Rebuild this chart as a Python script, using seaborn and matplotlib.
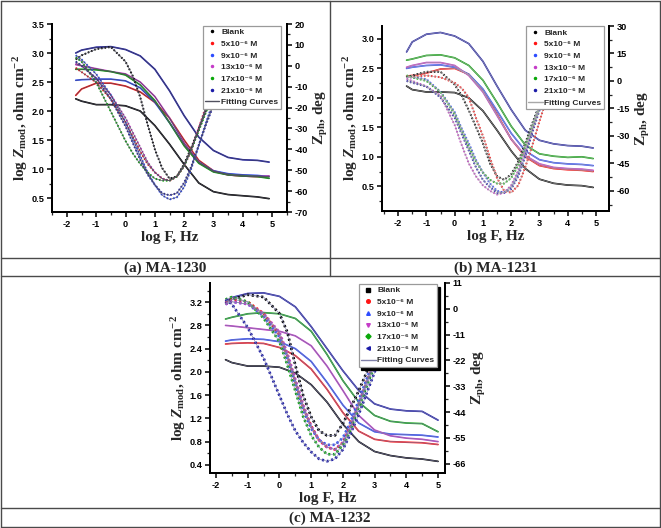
import numpy as np
import pandas as pd
import matplotlib
matplotlib.use('Agg')
import matplotlib.pyplot as plt
from matplotlib.lines import Line2D
from matplotlib.ticker import FixedLocator, AutoMinorLocator
import seaborn as sns

# ---------------- data ----------------
SERIES = ['Blank', '5x10⁻⁶ M', '9x10⁻⁶ M', '13x10⁻⁶ M', '17x10⁻⁶ M', '21x10⁻⁶ M']
COLORS = ['#000000', '#ff1414', '#2d4cff', '#c53cc8', '#0aa80a', '#1c1ca8']
FIT_LABEL = 'Fitting Curves'

MOD_X_AB = [-1.7, -1.5, -1.0, -0.5, 0.0, 0.5, 1.0, 1.5, 2.0, 2.5, 3.0, 3.5, 4.0, 4.5, 4.9]
MOD_X_C = [-1.7, -1.5, -1.0, -0.5, 0.0, 0.5, 1.0, 1.5, 2.0, 2.5, 3.0, 3.5, 4.0, 4.5, 5.0]
PH_X = [-1.7, -1.5, -1.0, -0.5, 0.0, 0.25, 0.5, 0.75, 1.0, 1.25, 1.5, 1.75,
        2.0, 2.25, 2.5, 2.75, 3.0, 3.25, 3.5, 4.0, 4.5, 4.9]

# (a) MA-1230
a_mod_blank = [2.21, 2.17, 2.11, 2.11, 2.09, 2.00, 1.75, 1.43, 1.08, 0.76, 0.61, 0.56, 0.54, 0.52, 0.49]
a_mod_5 = [2.27, 2.38, 2.48, 2.48, 2.43, 2.33, 2.15, 1.88, 1.50, 1.15, 0.97, 0.90, 0.88, 0.87, 0.87]
a_mod_9 = [2.53, 2.54, 2.55, 2.55, 2.52, 2.40, 2.15, 1.80, 1.42, 1.12, 0.97, 0.92, 0.90, 0.89, 0.87]
a_mod_13 = [2.80, 2.78, 2.73, 2.68, 2.64, 2.50, 2.25, 1.88, 1.45, 1.12, 0.96, 0.90, 0.88, 0.87, 0.88]
a_mod_17 = [2.72, 2.72, 2.71, 2.68, 2.62, 2.45, 2.18, 1.80, 1.40, 1.10, 0.95, 0.90, 0.88, 0.87, 0.84]
a_mod_21 = [3.00, 3.05, 3.10, 3.11, 3.06, 2.95, 2.72, 2.35, 1.92, 1.55, 1.32, 1.20, 1.16, 1.15, 1.12]

a_ph_blank = [3, 5, 8, 9, 2, -5, -15, -28, -40, -49, -54, -53, -47, -39, -30, -21, -12, -4, 2, 8, 9, 9]
a_ph_5 = [-1, -3, -8, -16, -27, -34, -41, -47, -51, -54, -55, -53, -48, -40, -30, -19, -9, 0, 6, 10, 10, 10]
a_ph_9 = [5, 3, -4, -14, -27, -35, -43, -51, -57, -62, -64, -63, -58, -49, -38, -27, -17, -8, 0, 7, 9, 9]
a_ph_13 = [1, 0, -6, -14, -25, -32, -39, -46, -51, -54, -55, -53, -48, -40, -30, -20, -10, -1, 5, 9, 10, 10]
a_ph_17 = [4, 2, -8, -22, -36, -42, -47, -51, -54, -55, -55, -53, -48, -40, -31, -22, -13, -4, 3, 8, 10, 10]
a_ph_21 = [2, 0, -6, -16, -29, -37, -45, -52, -57, -61, -62, -61, -56, -48, -38, -28, -19, -10, -2, 6, 9, 9]

# (b) MA-1231
b_mod_blank = [2.20, 2.14, 2.10, 2.10, 2.09, 2.00, 1.78, 1.45, 1.10, 0.80, 0.62, 0.55, 0.52, 0.51, 0.48]
b_mod_5 = [2.37, 2.38, 2.42, 2.49, 2.50, 2.40, 2.12, 1.72, 1.30, 1.00, 0.85, 0.80, 0.78, 0.77, 0.75]
b_mod_9 = [2.50, 2.52, 2.55, 2.56, 2.52, 2.40, 2.15, 1.78, 1.40, 1.10, 0.95, 0.90, 0.88, 0.87, 0.85]
b_mod_13 = [2.52, 2.55, 2.60, 2.60, 2.55, 2.38, 2.10, 1.70, 1.30, 1.02, 0.88, 0.82, 0.80, 0.79, 0.77]
b_mod_17 = [2.64, 2.66, 2.72, 2.73, 2.68, 2.55, 2.30, 1.92, 1.52, 1.20, 1.05, 1.01, 0.99, 1.00, 0.97]
b_mod_21 = [2.78, 2.95, 3.08, 3.11, 3.05, 2.92, 2.62, 2.20, 1.80, 1.45, 1.28, 1.22, 1.19, 1.18, 1.15]

b_ph_blank = [2, 3, 5, 5, -2, -8, -16, -25, -34, -45, -52, -54, -51, -44, -34, -23, -13, -4, 3, 10, 12, 12]
b_ph_5 = [2, 2, 3, 2, -1, -4, -9, -20, -30, -42, -53, -60, -61, -57, -47, -35, -22, -10, 0, 10, 12, 12]
b_ph_9 = [2, 2, 1, -6, -17, -26, -34, -43, -50, -56, -60, -61, -58, -50, -38, -25, -13, -3, 4, 10, 12, 12]
b_ph_13 = [1, 0, -3, -8, -24, -35, -45, -52, -57, -60, -62, -61, -57, -49, -38, -26, -14, -4, 3, 10, 12, 12]
b_ph_17 = [3, 2, 0, -6, -18, -27, -36, -44, -50, -54, -56, -56, -53, -46, -36, -25, -14, -4, 3, 10, 12, 12]
b_ph_21 = [0, -1, -3, -9, -20, -29, -38, -47, -54, -58, -61, -61, -59, -52, -41, -28, -16, -5, 3, 10, 12, 12]

# (c) MA-1232
c_mod_blank = [2.21, 2.16, 2.10, 2.10, 2.08, 1.98, 1.78, 1.48, 1.10, 0.80, 0.63, 0.56, 0.52, 0.50, 0.46]
c_mod_5 = [2.48, 2.49, 2.50, 2.49, 2.42, 2.28, 2.05, 1.70, 1.30, 0.98, 0.84, 0.80, 0.79, 0.78, 0.75]
c_mod_9 = [2.53, 2.55, 2.57, 2.56, 2.52, 2.40, 2.18, 1.82, 1.43, 1.12, 0.97, 0.93, 0.92, 0.91, 0.88]
c_mod_13 = [2.80, 2.79, 2.76, 2.73, 2.70, 2.62, 2.45, 2.10, 1.68, 1.25, 1.00, 0.90, 0.86, 0.84, 0.80]
c_mod_17 = [2.91, 2.94, 3.00, 3.02, 3.00, 2.92, 2.70, 2.30, 1.85, 1.48, 1.25, 1.15, 1.12, 1.11, 0.97]
c_mod_21 = [3.20, 3.28, 3.35, 3.36, 3.30, 3.12, 2.78, 2.40, 2.02, 1.68, 1.45, 1.36, 1.33, 1.32, 1.17]

c_ph_blank = [2, 4, 6, 5, -2, -10, -24, -37, -46, -52, -54, -54, -49, -42, -35, -27, -18, -10, -3, 5, 8, 8]
c_ph_5 = [3, 4, 3, -2, -11, -20, -31, -42, -50, -56, -59, -60, -57, -50, -41, -31, -22, -13, -5, 4, 8, 8]
c_ph_9 = [2, 3, 2, -3, -12, -21, -32, -43, -51, -56, -58, -58, -55, -48, -39, -30, -21, -12, -4, 4, 8, 8]
c_ph_13 = [2, 3, 2, -2, -10, -19, -30, -41, -50, -56, -59, -60, -57, -50, -41, -32, -23, -14, -6, 3, 8, 8]
c_ph_17 = [4, 5, 3, -4, -14, -24, -35, -46, -54, -59, -62, -62, -58, -51, -42, -33, -24, -15, -7, 3, 7, 7]
c_ph_21 = [4, 2, -8, -21, -37, -45, -52, -57, -61, -64, -65, -64, -60, -53, -45, -36, -27, -18, -10, 1, 6, 6]

XTICKS = [-2, -1, 0, 1, 2, 3, 4, 5]
A_LTICKS = [0.5, 1.0, 1.5, 2.0, 2.5, 3.0, 3.5]
A_RTICKS = [-70, -60, -50, -40, -30, -20, -10, 0, 10, 20]
B_LTICKS = [0.5, 1.0, 1.5, 2.0, 2.5, 3.0]
B_RTICKS = [-60, -45, -30, -15, 0, 15, 30]
C_LTICKS = [0.4, 0.8, 1.2, 1.6, 2.0, 2.4, 2.8, 3.2]
C_RTICKS = [-66, -55, -44, -33, -22, -11, 0, 11]
CAPTIONS = ['(a) MA-1230', '(b) MA-1231', '(c) MA-1232']

# ---------------- style ----------------
sns.set_style('white')
plt.rcParams['font.family'] = ['Liberation Sans', 'DejaVu Sans']
plt.rcParams['font.weight'] = 'bold'
plt.rcParams['axes.unicode_minus'] = False
plt.rcParams['mathtext.fontset'] = 'custom'
plt.rcParams['mathtext.rm'] = 'Liberation Serif:bold'
plt.rcParams['mathtext.it'] = 'Liberation Serif:bold:italic'
plt.rcParams['mathtext.bf'] = 'Liberation Serif:bold'

W, H = 661, 528
fig = plt.figure(figsize=(W / 100, H / 100), dpi=100)
fig.patch.set_facecolor('white')

SERIF = dict(family='Liberation Serif', weight='bold', size=11)
LEGPROP = dict(family=['Liberation Sans', 'DejaVu Sans'], weight='bold', size=6.0)


def long_df(xs, series_vals):
    rows = []
    for name, vals in zip(SERIES, series_vals):
        for x, v in zip(xs, vals):
            rows.append((name, x, v))
    return pd.DataFrame(rows, columns=['series', 'logF', 'val'])


def px_rect(l, r, t, b):
    return [l / W, 1 - b / H, (r - l) / W, (b - t) / H]


def panel(rect, mod_x, mods, phs, xlim, yl, ylt, yr, yrt, fitcol, markers, msize,
          leg_anchor, shadow, edgecol, ph_lw):
    ax = fig.add_axes(rect)
    axr = ax.twinx()
    dfm = long_df(mod_x, mods)
    dfp = long_df(PH_X, phs)

    sns.lineplot(data=dfm, x='logF', y='val', hue='series', hue_order=SERIES,
                 palette=COLORS, estimator=None, sort=False, legend=False,
                 ax=ax, linewidth=1.2)
    sns.lineplot(data=dfm, x='logF', y='val', units='series', estimator=None,
                 color=fitcol, sort=False, legend=False, ax=ax, linewidth=0.45)

    sns.lineplot(data=dfp, x='logF', y='val', hue='series', hue_order=SERIES,
                 palette=COLORS, estimator=None, sort=False, legend=False,
                 ax=axr, linewidth=ph_lw, linestyle=(0, (0.8, 1.0)))
    sns.lineplot(data=dfp, x='logF', y='val', units='series', estimator=None,
                 color=fitcol, sort=False, legend=False, ax=axr, linewidth=0.45)

    ax.set_xlim(*xlim)
    ax.set_ylim(*yl)
    axr.set_ylim(*yr)
    ax.xaxis.set_major_locator(FixedLocator(XTICKS))
    ax.xaxis.set_minor_locator(AutoMinorLocator(2))
    ax.yaxis.set_major_locator(FixedLocator(ylt))
    ax.yaxis.set_minor_locator(AutoMinorLocator(2))
    axr.yaxis.set_major_locator(FixedLocator(yrt))
    axr.yaxis.set_minor_locator(AutoMinorLocator(2))

    for a in (ax, axr):
        a.spines['top'].set_visible(False)
        for s in ('left', 'right', 'bottom'):
            a.spines[s].set_linewidth(1.4)
            a.spines[s].set_color('black')
        a.tick_params(which='major', direction='out', length=3.5, width=1.1,
                      labelsize=6.6, colors='black', pad=2)
        a.tick_params(which='minor', direction='out', length=2, width=0.9)
    ax.tick_params(axis='x', which='both', bottom=True)
    ax.tick_params(axis='y', which='both', left=True)
    axr.tick_params(axis='y', which='both', right=True)

    ax.set_xlabel('log F, Hz', fontdict=SERIF, labelpad=2)
    ax.set_ylabel(r'log $Z_{\rm mod}$, ohm cm$^{-2}$', fontdict=SERIF, labelpad=1)
    axr.set_ylabel(r'$\mathrm{Z}_{\rm ph}$, deg', fontdict=SERIF, labelpad=3)
    ax.grid(False)
    axr.grid(False)

    handles = [Line2D([], [], ls='none', marker=m, ms=msize, color=c, mec=c)
               for m, c in zip(markers, COLORS)]
    handles.append(Line2D([], [], color=fitcol, lw=1.0))
    leg = axr.legend(handles, SERIES + [FIT_LABEL], loc='upper right',
                     bbox_to_anchor=leg_anchor, borderaxespad=0, prop=LEGPROP,
                     frameon=True, fancybox=False, edgecolor=edgecol,
                     framealpha=1, handlelength=1.7, handletextpad=0.2,
                     labelspacing=0.46, borderpad=0.32, shadow=shadow)
    leg.get_frame().set_linewidth(0.9)
    return ax, axr


dot = ['.'] * 6
panel(px_rect(52, 287, 24, 212), MOD_X_AB,
      [a_mod_blank, a_mod_5, a_mod_9, a_mod_13, a_mod_17, a_mod_21],
      [a_ph_blank, a_ph_5, a_ph_9, a_ph_13, a_ph_17, a_ph_21],
      (-2.51, 5.51), (0.26, 3.5), A_LTICKS, (-70, 20), A_RTICKS,
      '#50505e', dot, 3, (0.974, 0.99), False, '#9a9a9a', 1.4)

panel(px_rect(382, 609, 26, 211), MOD_X_AB,
      [b_mod_blank, b_mod_5, b_mod_9, b_mod_13, b_mod_17, b_mod_21],
      [b_ph_blank, b_ph_5, b_ph_9, b_ph_13, b_ph_17, b_ph_21],
      (-2.57, 5.46), (0.08, 3.22), B_LTICKS, (-71, 30), B_RTICKS,
      '#a8a8a8', dot, 3, (0.978, 1.0), False, '#9a9a9a', 1.4)

panel(px_rect(210, 445, 283, 473), MOD_X_C,
      [c_mod_blank, c_mod_5, c_mod_9, c_mod_13, c_mod_17, c_mod_21],
      [c_ph_blank, c_ph_5, c_ph_9, c_ph_13, c_ph_17, c_ph_21],
      (-2.19, 5.22), (0.26, 3.53), C_LTICKS, (-70, 11), C_RTICKS,
      '#8080a8', ['s', 'o', '^', 'v', 'D', '<'], 2.6, (0.966, 0.995),
      {'color': 'black', 'alpha': 1.0}, '#9a9a9a', 1.9)

# ---------------- table frame & captions ----------------
def hline(y, x0=1, x1=660):
    fig.add_artist(Line2D([x0 / W, x1 / W], [1 - y / H, 1 - y / H],
                          transform=fig.transFigure, color='#4a4a4a', lw=1.0))


def vline(x, y0, y1):
    fig.add_artist(Line2D([x / W, x / W], [1 - y0 / H, 1 - y1 / H],
                          transform=fig.transFigure, color='#4a4a4a', lw=1.0))

for y in (1, 258, 276, 508, 527):
    hline(y)
vline(1, 1, 527)
vline(660, 1, 527)
vline(330, 1, 276)

fig.text(165 / W, 1 - 268 / H, CAPTIONS[0], ha='center', va='center', **SERIF)
fig.text(496 / W, 1 - 268 / H, CAPTIONS[1], ha='center', va='center', **SERIF)
fig.text(330 / W, 1 - 518 / H, CAPTIONS[2], ha='center', va='center', **SERIF)

fig.savefig('out.png', dpi=100, facecolor='white')
